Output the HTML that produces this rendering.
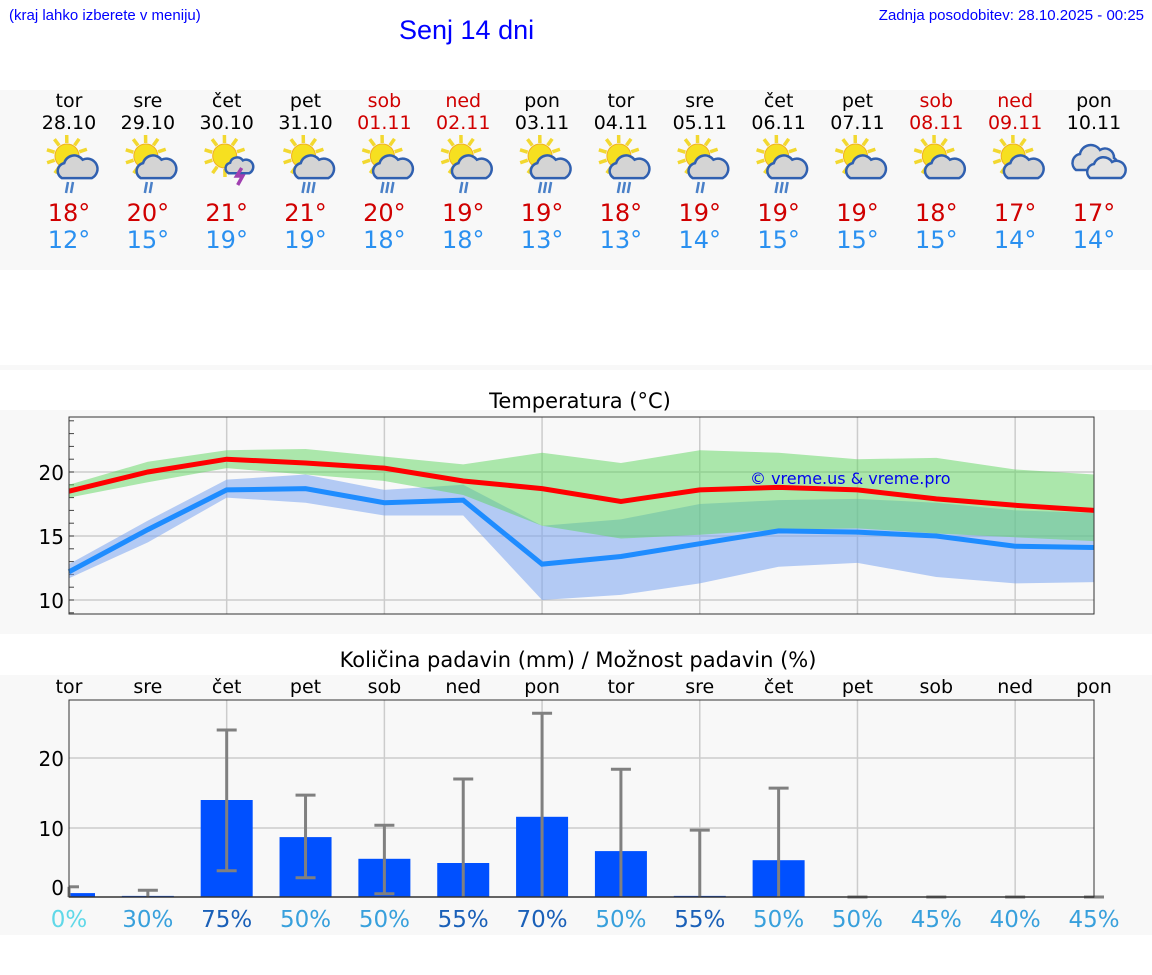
<!DOCTYPE html>
<html><head><meta charset="utf-8"><style>
body{margin:0;width:1152px;height:975px;background:#fff;font-family:"DejaVu Sans","Liberation Sans",sans-serif;overflow:hidden;position:relative}
.a{position:absolute}
</style></head><body>
<div class="a" style="left:9px;top:7px;font-size:15px;color:#00f;font-family:'Liberation Sans',sans-serif">(kraj lahko izberete v meniju)</div>
<div class="a" style="left:399px;top:15px;font-size:27px;color:#00f;font-family:'Liberation Sans',sans-serif">Senj 14 dni</div>
<div class="a" style="right:8px;top:7px;font-size:15px;color:#00f;font-family:'Liberation Sans',sans-serif">Zadnja posodobitev: 28.10.2025 - 00:25</div>
<svg class="a" style="left:0;top:0" width="1152" height="975" id="svg" font-family="DejaVu Sans, Liberation Sans, sans-serif"></svg>
<script>
const days=["tor","sre","čet","pet","sob","ned","pon","tor","sre","čet","pet","sob","ned","pon"];
const dates=["28.10","29.10","30.10","31.10","01.11","02.11","03.11","04.11","05.11","06.11","07.11","08.11","09.11","10.11"];
const weekend=[0,0,0,0,1,1,0,0,0,0,0,1,1,0];
const icons=["sr","sr","st","sr","sr","sr","sr","sr","sr","sr","s","s","s","c"];
const rainAmt=[2,2,0,3,3,2,3,3,2,3,0,0,0,0];
const tMaxDay=[18,20,21,21,20,19,19,18,19,19,19,18,17,17];
const tMinDay=[12,15,19,19,18,18,13,13,14,15,15,15,14,14];
const maxLine=[18.5,20,21,20.7,20.3,19.3,18.7,17.7,18.6,18.8,18.6,17.9,17.4,17.0];
const maxHi=[19,20.8,21.7,21.8,21.2,20.6,21.5,20.7,21.7,21.5,21,21.1,20.2,19.8];
const maxLo=[18,19.2,20.3,19.8,19.3,18.2,15.8,14.8,15.1,15.5,15.6,15.2,14.9,14.6];
const minLine=[12.2,15.5,18.6,18.7,17.6,17.8,12.8,13.4,14.4,15.4,15.3,15.0,14.2,14.1];
const minHi=[12.8,16.2,19.4,19.8,18.6,19.0,15.8,16.3,17.5,17.8,17.9,17.6,17.0,16.8];
const minLo=[11.7,14.5,18.0,17.6,16.6,16.6,10.0,10.4,11.3,12.6,12.9,11.8,11.3,11.4];
const tempTicks=[10,15,20];
const precip=[0.7,0.3,14,8.7,5.6,5.0,11.6,6.7,0.3,5.4,0,0,0,0];
const errHi=[1.6,1.1,24,14.7,10.4,17,26.4,18.4,9.7,15.7,0,0,0,0];
const errLo=[0,0,3.9,2.9,0.6,0,0,0,0,0,0,0,0,0];
const prob=[0,30,75,50,50,55,70,50,55,50,50,45,40,45];
const precipTicks=[0,10,20];

const svg=document.getElementById('svg');
const NS='http://www.w3.org/2000/svg';
function mk(t,a,p){const e=document.createElementNS(NS,t);for(const k in a)e.setAttribute(k,a[k]);(p||svg).appendChild(e);return e;}
const X=i=>69+i*(1094-69)/13;
const TY=v=>472-(v-20)*12.8;
const PY=v=>898-v*7;
let r;
r=mk('rect',{x:0,y:90,width:1152,height:180,fill:'#f8f8f8'});
r=mk('rect',{x:0,y:365,width:1152,height:5,fill:'#f8f8f8'});
r=mk('rect',{x:0,y:410,width:1152,height:224,fill:'#f8f8f8'});
r=mk('rect',{x:0,y:675,width:1152,height:260,fill:'#f8f8f8'});
function icon(cx,cy,type,rain){
  const g=mk('g',{});
  
  if(type!=='c'){const sx=cx-8,sy=cy-6;
    for(let k=0;k<10;k++){const a=k*Math.PI/5+0.3;mk('line',{x1:sx+Math.cos(a)*13,y1:sy+Math.sin(a)*13,x2:sx+Math.cos(a)*21,y2:sy+Math.sin(a)*21,stroke:'#f2d830','stroke-width':3.5},g);}
    mk('circle',{cx:sx,cy:sy,r:12,fill:'#f6e020',stroke:'#f0b020','stroke-width':1},g);}
  const cf=type==='c'?'#ddd':'#d4d4d4';
  if(type==='c'){
    mk('path',{d:`M${cx-24},${cy+8} a9,9 0 0 1 4,-16 a11,11 0 0 1 20,-4 a9,9 0 0 1 14,8 a7,7 0 0 1 0,12 z`,fill:cf,stroke:'#3060b0','stroke-width':2.5},g);
    mk('path',{d:`M${cx-10},${cy+16} a8,8 0 0 1 4,-14 a10,10 0 0 1 18,-2 a8,8 0 0 1 9,16 z`,fill:'#e4e4e4',stroke:'#3060b0','stroke-width':2.5},g);
  } else {
    const s=type==='st'?0.8:1.15, ox=type==='st'?7:3;
    mk('path',{d:`M${cx-14*s+ox},${cy+14*s} a${7*s},${7*s} 0 0 1 ${2*s},${-13*s} a${9*s},${9*s} 0 0 1 ${16*s},${-3*s} a${7*s},${7*s} 0 0 1 ${8*s},${16*s} z`,fill:cf,stroke:'#3060b0','stroke-width':2.5},g);
    if(type==='st') mk('path',{d:`M${cx+9},${cy+6} l-5,8 h6 l-5,9`,fill:'none',stroke:'#a040b0','stroke-width':3.5},g);
  }
  for(let k=0;k<rain;k++) mk('line',{x1:cx-7+k*5,y1:cy+20,x2:cx-9+k*5,y2:cy+31,stroke:'#4a80c8','stroke-width':2.5},g);
}
for(let i=0;i<14;i++){
  const x=X(i),col=weekend[i]?'#d00000':'#000';
  let t=mk('text',{x:x,y:107,'text-anchor':'middle','font-size':19,fill:col});t.textContent=days[i];
  
  t=mk('text',{x:x,y:129,'text-anchor':'middle','font-size':19,fill:col});t.textContent=dates[i];
  
  icon(x+6,162,icons[i],rainAmt[i]);
  t=mk('text',{x:x,y:221,'text-anchor':'middle','font-size':24,fill:'#d00000'});t.textContent=tMaxDay[i]+'°';
  
  t=mk('text',{x:x,y:248,'text-anchor':'middle','font-size':24,fill:'#2a90f0'});t.textContent=tMinDay[i]+'°';
  
}
let t=mk('text',{x:580,y:408,'text-anchor':'middle','font-size':21});t.textContent='Temperatura (°C)';

mk('rect',{x:69,y:417,width:1025,height:197,fill:'#f8f8f8'});
for(let i=2;i<13;i+=2)mk('line',{x1:X(i),y1:417,x2:X(i),y2:614,stroke:'#ccc','stroke-width':1.5});
tempTicks.forEach(v=>{mk('line',{x1:69,y1:TY(v),x2:1094,y2:TY(v),stroke:'#ccc','stroke-width':1.5});
  const tt=mk('text',{x:64,y:TY(v)+8,'text-anchor':'end','font-size':20});tt.textContent=v;
  });
for(let v=9;v<=24;v++)mk('line',{x1:69,y1:TY(v),x2:74,y2:TY(v),stroke:'#444'});
function band(hi,lo,fill,op,name){let d='M'+hi.map((v,i)=>X(i)+','+TY(v)).join('L')+'L'+lo.map((v,i)=>X(i)+','+TY(v)).reverse().join('L')+'Z';
  const p=mk('path',{d:d,fill:fill,'fill-opacity':op});}
band(minHi,minLo,'#7aa4f0',0.55,'min-temp-band');
band(maxHi,maxLo,'#5ed65e',0.5,'max-temp-band');
function line(a,c,name){const p=mk('polyline',{points:a.map((v,i)=>X(i)+','+TY(v)).join(' '),fill:'none',stroke:c,'stroke-width':5});}
line(minLine,'#1e8cff','min-temp-line');
line(maxLine,'#ff0000','max-temp-line');
mk('rect',{x:69,y:417,width:1025,height:197,fill:'none',stroke:'#333','stroke-width':1});
t=mk('text',{x:750,y:484,'font-size':16,fill:'#0000ee'});t.textContent='© vreme.us & vreme.pro';

t=mk('text',{x:578,y:667,'text-anchor':'middle','font-size':21});t.textContent='Količina padavin (mm) / Možnost padavin (%)';

mk('rect',{x:69,y:700,width:1025,height:197,fill:'#f8f8f8'});
for(let i=2;i<13;i+=2)mk('line',{x1:X(i),y1:700,x2:X(i),y2:897,stroke:'#ccc','stroke-width':1.5});
precipTicks.forEach(v=>{if(v>0)mk('line',{x1:69,y1:PY(v),x2:1094,y2:PY(v),stroke:'#ccc','stroke-width':1.5});
  const tt=mk('text',{x:64,y:(v===0?887:PY(v))+8,'text-anchor':'end','font-size':20});tt.textContent=v;
  });
for(let i=0;i<14;i++){
  const x=X(i);
  let tt=mk('text',{x:x,y:693,'text-anchor':'middle','font-size':19});tt.textContent=days[i];
  
  if(precip[i]>0){const x0=Math.max(69,x-26),x1=Math.min(1094,x+26);
    const b=mk('rect',{x:x0,y:PY(precip[i]),width:x1-x0,height:897-PY(precip[i]),fill:'#0050ff'});
    }
  const g=mk('g',{stroke:'#808080','stroke-width':3});
  
  const yh=Math.min(PY(errHi[i]),897),yl=Math.min(PY(errLo[i]),897);
  mk('line',{x1:x,y1:yh,x2:x,y2:yl},g);
  mk('line',{x1:Math.max(69,x-10),y1:yh,x2:x+10,y2:yh},g);
  if(errLo[i]>0)mk('line',{x1:x-10,y1:yl,x2:x+10,y2:yl},g);
  const pc=prob[i]===0?'#60d8e8':(prob[i]>=55?'#1a60b8':'#38a0dc');
  tt=mk('text',{x:x,y:927,'text-anchor':'middle','font-size':23,fill:pc});tt.textContent=prob[i]+'%';
  
}
mk('rect',{x:69,y:700,width:1025,height:197,fill:'none',stroke:'#333','stroke-width':1});
mk('line',{x1:69,y1:897,x2:1094,y2:897,stroke:'#333','stroke-width':1.5});
</script>
</body></html>
